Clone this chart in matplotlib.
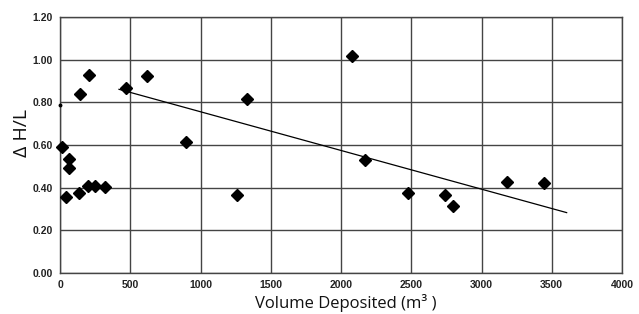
import matplotlib
matplotlib.use("Agg")
import matplotlib.pyplot as plt

# data
volume = [15, 64, 62, 45, 135, 197, 249, 323, 145, 206, 467, 619, 894,
          1260, 1329, 2076, 2171, 2474, 2742, 2797, 3179, 3445]
dhl = [0.59, 0.534, 0.49, 0.358, 0.374, 0.406, 0.406, 0.405, 0.841, 0.93,
       0.866, 0.925, 0.613, 0.364, 0.817, 1.017, 0.53, 0.374, 0.367, 0.313,
       0.428, 0.423]
stray_x = [0]
stray_y = [0.787]
trend_x = [420, 3606]
trend_y = [0.861, 0.283]

x_ticks = [0, 500, 1000, 1500, 2000, 2500, 3000, 3500, 4000]
y_ticks = [0.0, 0.2, 0.4, 0.6, 0.8, 1.0, 1.2]

fig = plt.figure(figsize=(6.39, 3.14), dpi=100)
ax = fig.add_axes([0.0939, 0.1306, 0.8795, 0.8153])

ax.plot(volume, dhl, linestyle="none", marker="D", markersize=6.3,
        color="black", zorder=4, clip_on=False)
ax.plot(stray_x, stray_y, linestyle="none", marker="o", markersize=1.8,
        color="black", zorder=4, clip_on=False)
ax.plot(trend_x, trend_y, color="black", linewidth=0.9, zorder=3)

ax.set_xlim(0, 4000)
ax.set_ylim(0, 1.2)
ax.set_xticks(x_ticks)
ax.set_yticks(y_ticks)
ax.set_xticklabels([str(v) for v in x_ticks])
ax.set_yticklabels([f"{v:.2f}" for v in y_ticks])
ax.tick_params(axis="both", length=0, labelsize=7.5, pad=5)
for lab in ax.get_xticklabels() + ax.get_yticklabels():
    lab.set_fontweight("bold")
    lab.set_family("Liberation Sans")
    lab.set_color("#222222")

ax.grid(True, color="#444444", linewidth=1.0)
ax.set_axisbelow(True)
for s in ax.spines.values():
    s.set_color("#444444")
    s.set_linewidth(1.0)

ax.set_xlabel("Volume Deposited (m\u00b3 )", fontsize=12, family="Open Sans",
              va="center", ha="center", color="#111111")
ax.xaxis.set_label_coords(0.509, -0.117)
ax.set_ylabel("\u0394 H/L", fontsize=14, family="Open Sans",
              va="center", ha="center", color="#111111")
ax.yaxis.set_label_coords(-0.068, 0.547)

fig.savefig("out.png", dpi=100)
